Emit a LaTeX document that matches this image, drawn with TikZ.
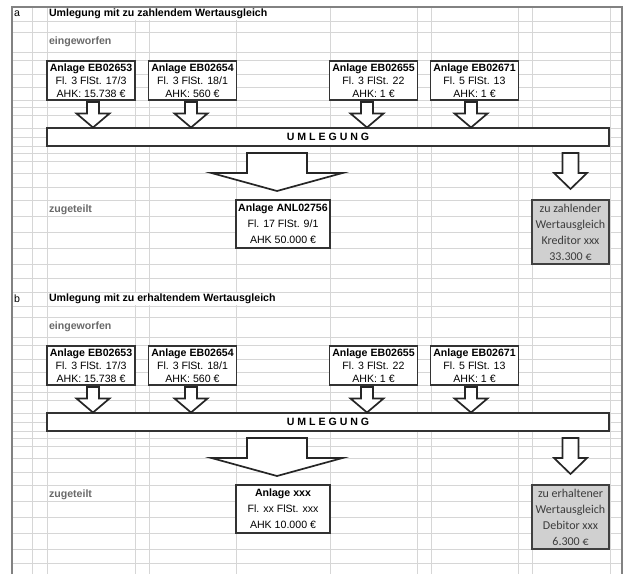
\documentclass[tikz,border=0pt]{standalone}
\usepackage{fontspec}
\setmainfont{Liberation Sans}
\newfontfamily\calibrifont{Carlito}
\usetikzlibrary{calc}
\definecolor{gitter}{RGB}{214,214,214}
\definecolor{rahmen}{RGB}{130,130,130}
\definecolor{kasten}{RGB}{208,208,208}
\definecolor{grautext}{RGB}{105,105,105}
\definecolor{kastentext}{RGB}{60,60,60}
\tikzset{
    every node/.style={inner sep=0pt, outer sep=0pt,
        font=\fontsize{10.6}{13}\selectfont}
}
\tikzset{
    anlage/.style={draw=black!80, line width=1.1pt, fill=white, align=center,
        minimum width=88pt, minimum height=39pt},
    neuanlage/.style={anlage, minimum width=94pt, minimum height=48pt,
        font=\fontsize{10.6}{16}\selectfont},
    umlegung/.style={draw=black!80, line width=1.6pt, fill=white,
        minimum width=562pt, minimum height=18pt,
        font=\fontsize{10.6}{13}\selectfont\bfseries},
    ausgleich/.style={draw=black!75, line width=1.1pt, fill=kasten,
        align=center, minimum width=77pt, minimum height=64pt,
        text=kastentext, font=\fontsize{12}{16}\calibrifont},
    titel/.style={anchor=west, fill=white, inner xsep=1pt, minimum height=12.5pt,
        font=\fontsize{10.6}{13}\selectfont\bfseries},
    grau/.style={anchor=west, text=grautext,
        font=\fontsize{10.6}{13}\selectfont\bfseries},
    pfeil/.style={draw=black!85, line width=1.7pt, fill=white, line join=miter},
    gitterlinie/.style={draw=gitter, line width=0.8pt}
}
\newcommand{\blockpfeil}[7]{%
  \draw[pfeil] let \p1=(#1), \p2=(#2) in
    (\x1-#5,\y1-#3) -- (\x1+#5,\y1-#3) -- (\x1+#5,\y2+#4+#7)
    -- (\x1+#6,\y2+#4+#7) -- (\x1,\y2+#4) -- (\x1-#6,\y2+#4+#7)
    -- (\x1-#5,\y2+#4+#7) -- cycle;}

\begin{document}
\begin{tikzpicture}[x=1pt,y=-1pt]
  \useasboundingbox (0,0) rectangle (624,574);

  \foreach \dy in {0,285}
    \foreach \y in {7,21,32,52,60,74,87,100,107,115,128,137,146,153,161,
                    173,187,200,216,232,248,264,278}
      \draw[gitterlinie] (12,\y+\dy) -- (622,\y+\dy);
  \foreach \x in {32,47,135,149,236,330,417,431,518,532,610}
    \draw[gitterlinie] (\x,7) -- (\x,574);
  \draw[rahmen, line width=1.2pt] (12,574) -- (12,7) -- (622,7) -- (622,574);

  \foreach \s/\dy/\titel/\neu/\ausgl in {
      a/0/{Umlegung mit zu zahlendem Wertausgleich}/{\textbf{Anlage ANL02756}\\Fl. 17 FlSt. 9/1\\AHK 50.000 €}/{zu zahlender\\Wertausgleich\\Kreditor xxx\\33.300 €},
      b/285/{Umlegung mit zu erhaltendem Wertausgleich}/{\textbf{Anlage xxx}\\Fl. xx FlSt. xxx\\AHK 10.000 €}/{zu erhaltener\\Wertausgleich\\Debitor xxx\\6.300 €}} {
    \begin{scope}[shift={(0,\dy)}]
      \node[anchor=west] (lab\s) at (14,14) {\s};
      \node[titel] (titel\s) at (48,14) {\titel};
      \node[grau] (ein\s) at (49,42) {eingeworfen};

      \node[anlage] (e1\s) at (91,80.5)
        {\textbf{Anlage EB02653}\\Fl. 3 FlSt. 17/3\\AHK: 15.738 €};
      \node[anlage] (e2\s) at (192.5,80.5)
        {\textbf{Anlage EB02654}\\Fl. 3 FlSt. 18/1\\AHK: 560 €};
      \node[anlage] (e3\s) at (373.5,80.5)
        {\textbf{Anlage EB02655}\\Fl. 3 FlSt. 22\\AHK: 1 €};
      \node[anlage] (e4\s) at (474.5,80.5)
        {\textbf{Anlage EB02671}\\Fl. 5 FlSt. 13\\AHK: 1 €};

      \node[umlegung] (uml\s) at (328,137) {U M L E G U N G};

      \node[grau] (zu\s) at (49,210) {zugeteilt};
      \node[neuanlage] (neu\s) at (283,224) {\neu};
      \node[ausgleich] (ausgl\s) at (570.5,232) {\ausgl};

      \blockpfeil{$(e1\s.south)+(2,0)$}{uml\s.north}{2pt}{0.5pt}{6pt}{16.5pt}{14pt}
      \blockpfeil{$(e2\s.south)+(-1.5,0)$}{uml\s.north}{2pt}{0.5pt}{6pt}{16.5pt}{14pt}
      \blockpfeil{$(e3\s.south)+(-6.5,0)$}{uml\s.north}{2pt}{0.5pt}{6pt}{16.5pt}{14pt}
      \blockpfeil{$(e4\s.south)+(-3.5,0)$}{uml\s.north}{2pt}{0.5pt}{6pt}{16.5pt}{14pt}
      \blockpfeil{$(uml\s.south)+(-51,0)$}{neu\s.north}{7pt}{9pt}{30pt}{65.5pt}{18pt}
      \blockpfeil{ausgl\s.north |- uml\s.south}{ausgl\s.north}{7pt}{11pt}{8pt}{16.5pt}{16pt}
    \end{scope}
  }
\end{tikzpicture}
\end{document}
